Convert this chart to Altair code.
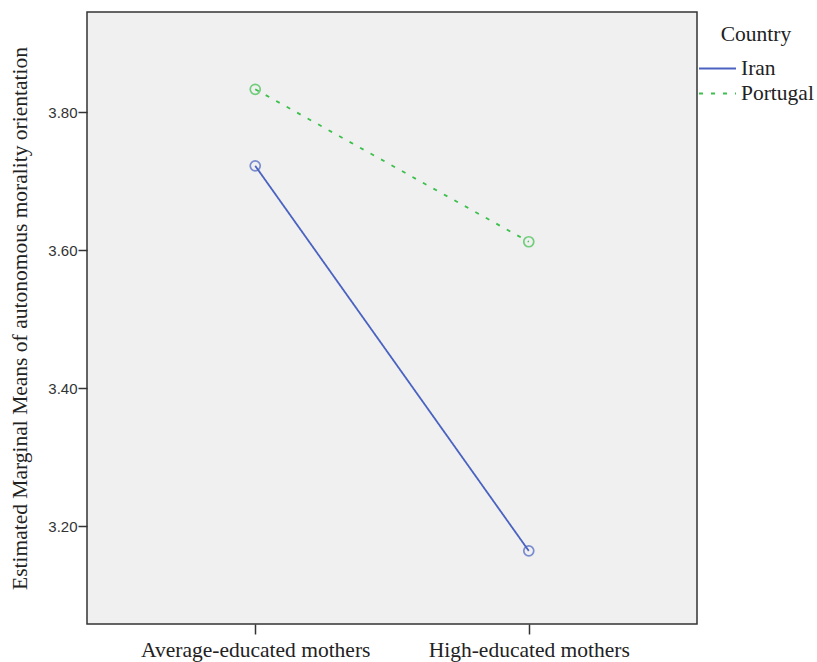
import altair as alt
import pandas as pd

education = ["Average-educated mothers", "High-educated mothers"]
countries = ["Iran", "Portugal"]
iran_means = [3.722, 3.164]
portugal_means = [3.833, 3.612]
y_ticks = [3.2, 3.4, 3.6, 3.8]

rows = []
for c, vals in zip(countries, [iran_means, portugal_means]):
    for e, v in zip(education, vals):
        rows.append({"Country": c, "Education": e, "Mean": v})
df = pd.DataFrame(rows)

serif = "Liberation Serif"
colors = ["#4a62c0", "#3cbf4c"]

x = alt.X(
    "Education:N",
    sort=education,
    scale=alt.Scale(type="point", padding=0.615),
    axis=alt.Axis(
        title=None, labelAngle=0, labelFont=serif, labelFontSize=21.5,
        labelColor="#222222", tickColor="#333333", tickSize=10, tickWidth=1.5,
        domain=False, labelPadding=5, grid=False, labelLimit=0,
    ),
)
y = alt.Y(
    "Mean:Q",
    scale=alt.Scale(domain=[3.058, 3.945], nice=False, zero=False),
    axis=alt.Axis(
        title="Estimated Marginal Means of autonomous morality orientation",
        titleFont=serif, titleFontSize=21.5, titleFontWeight="normal", titleColor="#222222",
        values=y_ticks, format=".2f", labelFont="Liberation Sans", labelFontSize=15,
        labelColor="#333333", tickColor="#333333", tickSize=9, tickWidth=1.5,
        domain=False, grid=False, labelPadding=1, titlePadding=16,
    ),
)
color = alt.Color(
    "Country:N",
    scale=alt.Scale(domain=countries, range=colors),
    legend=alt.Legend(
        orient="none", legendX=611, legendY=12, title="Country",
        titleFont=serif, titleFontSize=21.5, titleFontWeight="normal", titleColor="#222222",
        titleAnchor="middle", labelFont=serif, labelFontSize=21.5, labelColor="#222222",
        symbolType="stroke", symbolSize=1369, symbolStrokeWidth=1.8, labelOffset=4,
        rowPadding=3, titlePadding=12, clipHeight=22,
    ),
)
dash = alt.StrokeDash(
    "Country:N",
    scale=alt.Scale(domain=countries, range=[[1, 0], [4, 8]]),
    legend=None,
)

lines = alt.Chart(df).mark_line(strokeWidth=1.8).encode(x=x, y=y, color=color, strokeDash=dash)
points = alt.Chart(df).mark_point(shape="circle", filled=False, size=100, strokeWidth=1.7).encode(
    x=x, y=y, color=alt.Color("Country:N", scale=alt.Scale(domain=countries, range=colors), legend=None)
)

chart = (
    alt.layer(lines, points)
    .properties(
        width=610, height=612,
        autosize=alt.AutoSizeParams(type="none"),
        padding={"left": 87, "top": 12, "right": 120, "bottom": 38},
        background="white",
    )
    .configure_view(fill="#f0f0f0", stroke="#333333", strokeWidth=1.5)
)

chart.save("out.html", embed_options={"renderer": "svg", "actions": False})
